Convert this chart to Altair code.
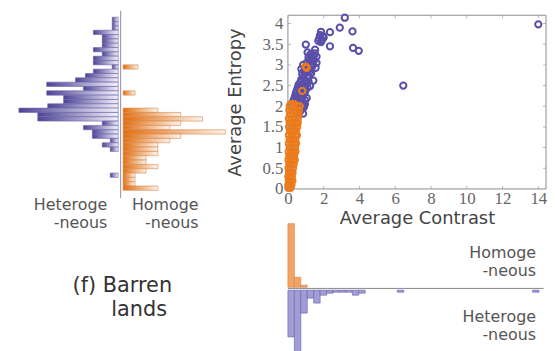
import altair as alt
import pandas as pd

# ---------------- left histogram: Average Entropy bins (top -> bottom) ----------------
entropy_bins = list(range(41))
hetero_entropy_counts = [6, 6, 6, 25, 16, 16, 16, 25, 16, 25, 25, 6, 25, 33, 43, 72, 35, 72, 55, 55,
                         71, 100, 81, 81, 16, 35, 26, 26, 8, 16, 8, 0, 0, 0, 0, 0, 8, 0, 0, 0, 0]
homo_entropy_counts = [0, 0, 0, 0, 0, 0, 0, 0, 0, 0, 0, 15, 0, 0, 0, 0, 0, 12, 0, 0,
                       0, 35, 58, 80, 58, 47, 103, 58, 47, 35, 35, 35, 23, 23, 35, 23, 12, 12, 12, 35, 0]

# ---------------- scatter: Average Contrast vs Average Entropy ----------------
hetero_contrast = [14.0, 3.18, 2.90, 3.61, 2.35, 2.35, 3.64, 3.96, 6.45,
                   1.85, 1.80, 1.95, 1.75, 1.90, 2.00, 1.70, 1.85,
                   1.00, 1.52, 1.45, 1.60, 1.15, 1.60, 1.55, 1.28, 1.42, 1.24,
                   1.30, 1.20, 1.05, 1.10, 0.95, 1.20, 0.90, 1.00, 0.80, 1.10, 0.85, 0.75, 0.95,
                   0.70, 0.85, 0.60, 0.75, 0.55, 0.70, 0.50, 0.65, 0.45, 0.60, 0.40, 0.55, 0.35,
                   0.50, 0.30, 0.45, 0.70, 0.60, 0.80, 0.90, 0.75, 0.55, 0.65, 0.85, 0.50, 0.95,
                   0.40, 0.35, 0.25, 1.05, 0.90, 1.00, 0.80, 1.15, 1.05, 1.30, 1.35, 0.75, 0.85,
                   1.40, 1.25, 1.10, 1.25, 1.35, 1.45, 1.50, 0.95, 1.10, 0.95, 1.15]
hetero_entropy = [3.98, 4.14, 3.90, 3.81, 3.79, 3.45, 3.41, 3.34, 2.50,
                  3.80, 3.72, 3.70, 3.64, 3.60, 3.66, 3.58, 3.55,
                  3.49, 3.37, 3.22, 3.20, 3.18, 3.05, 2.93, 3.09, 2.62, 2.49,
                  3.20, 3.12, 3.05, 2.98, 2.92, 2.90, 2.85, 2.80, 2.78, 2.72, 2.70, 2.65, 2.62,
                  2.58, 2.55, 2.52, 2.48, 2.45, 2.42, 2.38, 2.35, 2.32, 2.28, 2.25, 2.22, 2.18,
                  2.15, 2.12, 2.08, 2.10, 2.02, 2.00, 1.98, 1.92, 1.95, 1.85, 1.82, 1.80, 2.05,
                  1.90, 2.00, 2.05, 2.20, 2.30, 2.40, 2.20, 2.60, 2.55, 2.80, 2.95, 2.90, 3.00,
                  3.10, 3.25, 3.30, 2.85, 3.00, 3.10, 3.28, 2.35, 2.45, 2.15, 2.70]

homo_contrast = [0.98, 1.05, 0.80,
                 0.15, 0.35,
                 0.10, 0.30, 0.50, 0.65,
                 0.08, 0.25, 0.45, 0.62,
                 0.12, 0.30, 0.48, 0.60,
                 0.05, 0.22, 0.40, 0.55,
                 0.10, 0.28, 0.45, 0.55,
                 0.06, 0.20, 0.38, 0.52,
                 0.12, 0.30, 0.45,
                 0.05, 0.22, 0.40, 0.50,
                 0.10, 0.28, 0.42,
                 0.05, 0.20, 0.35, 0.45,
                 0.10, 0.25, 0.40,
                 0.04, 0.18, 0.32, 0.42,
                 0.08, 0.22, 0.35,
                 0.03, 0.15, 0.30, 0.38,
                 0.08, 0.20, 0.32,
                 0.03, 0.14, 0.28,
                 0.06, 0.18, 0.26,
                 0.02, 0.12, 0.22,
                 0.05, 0.15, 0.25,
                 0.02, 0.10, 0.20,
                 0.02, 0.08, 0.15]
homo_entropy = [2.96, 2.93, 2.37,
                2.05, 2.05,
                2.00, 2.00, 2.00, 2.00,
                1.90, 1.90, 1.90, 1.90,
                1.80, 1.80, 1.80, 1.80,
                1.70, 1.70, 1.70, 1.70,
                1.60, 1.60, 1.60, 1.60,
                1.50, 1.50, 1.50, 1.50,
                1.40, 1.40, 1.40,
                1.30, 1.30, 1.30, 1.30,
                1.20, 1.20, 1.20,
                1.10, 1.10, 1.10, 1.10,
                1.00, 1.00, 1.00,
                0.90, 0.90, 0.90, 0.90,
                0.80, 0.80, 0.80,
                0.70, 0.70, 0.70, 0.70,
                0.60, 0.60, 0.60,
                0.50, 0.50, 0.50,
                0.40, 0.40, 0.40,
                0.30, 0.30, 0.30,
                0.20, 0.20, 0.20,
                0.10, 0.10, 0.10,
                0.03, 0.03, 0.03]

x_ticks = [0, 2, 4, 6, 8, 10, 12, 14]
y_ticks = [0, 0.5, 1, 1.5, 2, 2.5, 3, 3.5, 4]

# ---------------- bottom histogram: Average Contrast bins ----------------
contrast_bin_width = 0.36
contrast_bins = list(range(40))
homo_contrast_counts = [64, 10, 2, 0, 0, 0, 0, 0, 0, 0, 0, 0, 0, 0, 0, 0, 0, 0, 0, 0,
                        0, 0, 0, 0, 0, 0, 0, 0, 0, 0, 0, 0, 0, 0, 0, 0, 0, 0, 0, 0]
hetero_contrast_counts = [47, 66, 23, 8, 13, 5, 3, 2, 2, 2, 5, 3, 0, 0, 0, 0, 0, 2, 0, 0,
                          0, 0, 0, 0, 0, 0, 0, 0, 0, 0, 0, 0, 0, 0, 0, 0, 0, 0, 2, 0]

PURPLE = "#5a4fa8"
ORANGE = "#ec7b1c"
SERIF = "Times New Roman, Liberation Serif, serif"
SANS = "DejaVu Sans"

# ======================= left histogram chart =======================
GAP = 2.5
ldf = pd.DataFrame({"k": entropy_bins, "p": hetero_entropy_counts, "o": homo_entropy_counts})
ldf["k2"] = ldf["k"] + 1
ldf["px"] = -(ldf["p"] + GAP)
ldf["px2"] = -GAP
ldf["ox"] = GAP
ldf["ox2"] = ldf["o"] + GAP

lx = alt.Scale(domain=[-113.5, 107.5], nice=False, zero=False)
ly = alt.Scale(domain=[-0.46, 70.64], nice=False, zero=False, reverse=True)

purple_grad = alt.LinearGradient(gradient="linear", x1=0, x2=1, y1=0, y2=0,
                                 stops=[alt.GradientStop(color="#4e4396", offset=0),
                                        alt.GradientStop(color="#f3f2fa", offset=1)])
orange_grad = alt.LinearGradient(gradient="linear", x1=0, x2=1, y1=0, y2=0,
                                 stops=[alt.GradientStop(color="#e46d0c", offset=0),
                                        alt.GradientStop(color="#fdf3ea", offset=1)])

lp = alt.Chart(ldf).transform_filter("datum.p > 0").mark_rect(
    fill=purple_grad, stroke="#6a62a8", strokeWidth=0.6).encode(
    x=alt.X("px:Q", scale=lx, axis=None), x2="px2:Q",
    y=alt.Y("k:Q", scale=ly, axis=None), y2="k2:Q")
lo = alt.Chart(ldf).transform_filter("datum.o > 0").mark_rect(
    fill=orange_grad, stroke="#cf8a55", strokeWidth=0.6).encode(
    x=alt.X("ox:Q", scale=lx, axis=None), x2="ox2:Q",
    y=alt.Y("k:Q", scale=ly, axis=None), y2="k2:Q")
lrule_df = pd.DataFrame({"x": [0], "y": [-1.5], "y2": [41.8]})
lrule = alt.Chart(lrule_df).mark_rule(color="#8a8fa0", strokeWidth=1).encode(
    x=alt.X("x:Q", scale=lx, axis=None), y=alt.Y("y:Q", scale=ly, axis=None), y2="y2:Q")

lab_left = pd.DataFrame({"x": [-13.5, -13.5, 78.5, 78.5],
                         "y": [44.6, 48.7, 44.6, 48.7],
                         "t": ["Heteroge", "-neous", "Homoge", "-neous"]})
ltext = alt.Chart(lab_left).mark_text(align="right", baseline="alphabetic", font=SANS,
                                      fontSize=16, color="#555").encode(
    x=alt.X("x:Q", scale=lx, axis=None), y=alt.Y("y:Q", scale=ly, axis=None), text="t:N")
ttl = pd.DataFrame({"x": [-48.5, -9.5], "y": [63.53, 69.04], "t": ["(f) Barren", "lands"]})
ttext = alt.Chart(ttl).mark_text(align="left", baseline="alphabetic", font=SANS,
                                 fontSize=21, color="#333").encode(
    x=alt.X("x:Q", scale=lx, axis=None), y=alt.Y("y:Q", scale=ly, axis=None), text="t:N")

left = alt.layer(lp, lo, lrule, ltext, ttext).properties(width=221, height=310)

# ======================= scatter chart =======================
X_MAX = 14.43
Y_MAX = 4.2
sx = alt.Scale(domain=[0, X_MAX], nice=False, zero=False)
sy = alt.Scale(domain=[0, Y_MAX], nice=False, zero=False)
xaxis = alt.Axis(values=x_ticks, title="Average Contrast", grid=False, domain=False, ticks=False,
                 labelFont=SERIF, labelFontSize=17, labelColor="#666", labelPadding=2,
                 labelOverlap=False, labelFlush=False, labelBound=False,
                 titleFont=SANS, titleFontSize=18, titleFontWeight="normal", titleColor="#444",
                 titlePadding=3)
yaxis = alt.Axis(values=y_ticks, title="Average Entropy", grid=False, domain=False, ticks=False,
                 format="~g", labelFont=SERIF, labelFontSize=17, labelColor="#666", labelPadding=5,
                 labelOverlap=False, labelFlush=False, labelBound=False,
                 titleFont=SANS, titleFontSize=18, titleFontWeight="normal", titleColor="#444",
                 titlePadding=18)

frame_df = pd.DataFrame({"x": [0], "x2": [X_MAX], "y": [0], "y2": [Y_MAX]})
frame = alt.Chart(frame_df).mark_rect(fill=None, stroke="#8c8c8c", strokeWidth=1).encode(
    x=alt.X("x:Q", scale=sx, axis=xaxis), x2="x2:Q",
    y=alt.Y("y:Q", scale=sy, axis=yaxis), y2="y2:Q")

pdf = pd.DataFrame({"x": hetero_contrast, "y": hetero_entropy})
odf = pd.DataFrame({"x": homo_contrast, "y": homo_entropy})
pts_p = alt.Chart(pdf).mark_point(shape="circle", filled=False, size=40, strokeWidth=2,
                                  color=PURPLE, opacity=1).encode(
    x=alt.X("x:Q", scale=sx, axis=xaxis), y=alt.Y("y:Q", scale=sy, axis=yaxis))
pts_o = alt.Chart(odf).mark_point(shape="circle", filled=False, size=40, strokeWidth=2,
                                  color=ORANGE, opacity=1).encode(
    x=alt.X("x:Q", scale=sx, axis=xaxis), y=alt.Y("y:Q", scale=sy, axis=yaxis))

xt = pd.DataFrame({"x": x_ticks})
yt = pd.DataFrame({"y": y_ticks})
tick_layers = []
for yv in [0, 175]:
    tick_layers.append(alt.Chart(xt).mark_tick(orient="vertical", size=6, thickness=1,
                                               color="#999", clip=True).encode(
        x=alt.X("x:Q", scale=sx, axis=xaxis), y=alt.value(yv)))
for xv in [0, 260]:
    tick_layers.append(alt.Chart(yt).mark_tick(orient="horizontal", size=6, thickness=1,
                                               color="#999", clip=True).encode(
        y=alt.Y("y:Q", scale=sy, axis=yaxis), x=alt.value(xv)))

scatter = alt.layer(frame, pts_p, pts_o, *tick_layers).properties(width=260, height=175)

# ======================= bottom histogram =======================
BG = 3
bdf = pd.DataFrame({"i": contrast_bins, "o": homo_contrast_counts, "p": hetero_contrast_counts})
bdf["x"] = bdf["i"] * contrast_bin_width
bdf["x2"] = (bdf["i"] + 1) * contrast_bin_width
bdf["oy"] = 0
bdf["oy2"] = bdf["o"]
bdf["py"] = -BG
bdf["py2"] = -(bdf["p"] + BG)

bx = alt.Scale(domain=[0, X_MAX], nice=False, zero=False)
by = alt.Scale(domain=[-69, 64], nice=False, zero=False)

bo = alt.Chart(bdf).transform_filter("datum.o > 0").mark_rect(
    fill="#f2a365", stroke="#d9874a", strokeWidth=0.7).encode(
    x=alt.X("x:Q", scale=bx, axis=None), x2="x2:Q",
    y=alt.Y("oy:Q", scale=by, axis=None), y2="oy2:Q")
bp = alt.Chart(bdf).transform_filter("datum.p > 0").mark_rect(
    fill="#a39dd6", stroke="#6e67b3", strokeWidth=0.7).encode(
    x=alt.X("x:Q", scale=bx, axis=None), x2="x2:Q",
    y=alt.Y("py:Q", scale=by, axis=None), y2="py2:Q")
brule_df = pd.DataFrame({"x": [0], "x2": [14.3], "y": [-1.2]})
brule = alt.Chart(brule_df).mark_rule(color="#888", strokeWidth=1).encode(
    x=alt.X("x:Q", scale=bx, axis=None), x2="x2:Q", y=alt.Y("y:Q", scale=by, axis=None))

lab_b = pd.DataFrame({"x": [13.87, 13.87, 13.87, 13.87], "y": [29.5, 11.5, -35.5, -53.5],
                      "t": ["Homoge", "-neous", "Heteroge", "-neous"]})
btext = alt.Chart(lab_b).mark_text(align="right", baseline="alphabetic", font=SANS,
                                   fontSize=16, color="#555").encode(
    x=alt.X("x:Q", scale=bx, axis=None), y=alt.Y("y:Q", scale=by, axis=None), text="t:N")

bottom = alt.layer(bo, bp, brule, btext).properties(width=260, height=133)

right = alt.vconcat(scatter, bottom, spacing=35, bounds="flush")
chart = alt.hconcat(left, right, spacing=61, bounds="flush").properties(
    padding=0, background="white").configure_view(stroke=None)

chart.save("out.html", embed_options={"renderer": "svg", "actions": False})
